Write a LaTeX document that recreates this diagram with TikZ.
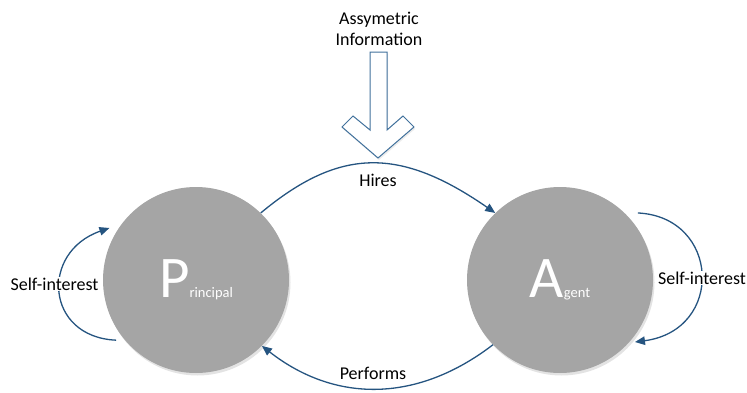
\documentclass[tikz,border=0pt]{standalone}
\usepackage{fontspec}
\setmainfont{Carlito}
\usetikzlibrary{shadows,arrows.meta,calc}
\definecolor{circgray}{RGB}{165,165,165}
\definecolor{arrblue}{RGB}{37,84,128}
\definecolor{blockblue}{RGB}{65,113,156}
\begin{document}
\begin{tikzpicture}[x=1pt,y=1pt,
  party/.style={circle, fill=circgray, minimum size=186pt, inner sep=0pt, text=white,
    drop shadow={shadow xshift=1.5pt, shadow yshift=-2.5pt, opacity=0.22}},
  flow/.style={draw=arrblue, line width=1.3pt, -{Triangle[length=10pt,width=8.5pt]}},
  lbl/.style={font=\fontsize{18}{21.5}\selectfont, text=black, inner sep=1pt},
]
\useasboundingbox (0,0) rectangle (747,392);

\node[party] (P) at (196,112) {{\fontsize{59}{59}\selectfont P}{\fontsize{14.5}{16}\selectfont rincipal}};
\node[party] (A) at (560,112) {{\fontsize{59}{59}\selectfont A}{\fontsize{14.5}{16}\selectfont gent}};

% block arrow
\path[draw=blockblue, line width=1pt, fill=white,
      drop shadow={shadow xshift=1pt, shadow yshift=-2pt, opacity=0.15}]
  (370,340) -- (387,340) -- (387,262) -- (403,276) -- (414,265) -- (378,234)
  -- (342,265) -- (353,276) -- (370,262) -- cycle;
\node[lbl, align=center] (info) at (379,363) {Assymetric\\Information};

% connectors
\draw[flow] (P.46) .. controls (340,245) and (400,245) .. (A.134);
\node[lbl] (hires) at (378,212) {Hires};

\draw[flow] (A.-136) .. controls (417,-11) and (335,-11) .. (P.-45);
\node[lbl] (perf) at (373,19) {Performs};

\coordinate (pl1) at ($(P.center)+(217:100)$);
\coordinate (pl2) at ($(P.center)+(149:101)$);
\draw[flow] (pl1) .. controls (45,55) and (40,140) .. (pl2);
\node[lbl, fill=white] (siP) at (54.5,108) {Self-interest};

\coordinate (ar1) at ($(A.center)+(40.7:102.8)$);
\coordinate (ar2) at ($(A.center)+(-39.6:97.3)$);
\draw[flow] (ar1) .. controls (720,175) and (725,62) .. (ar2);
\node[lbl, fill=white] (siA) at (702,114) {Self-interest};
\end{tikzpicture}
\end{document}
